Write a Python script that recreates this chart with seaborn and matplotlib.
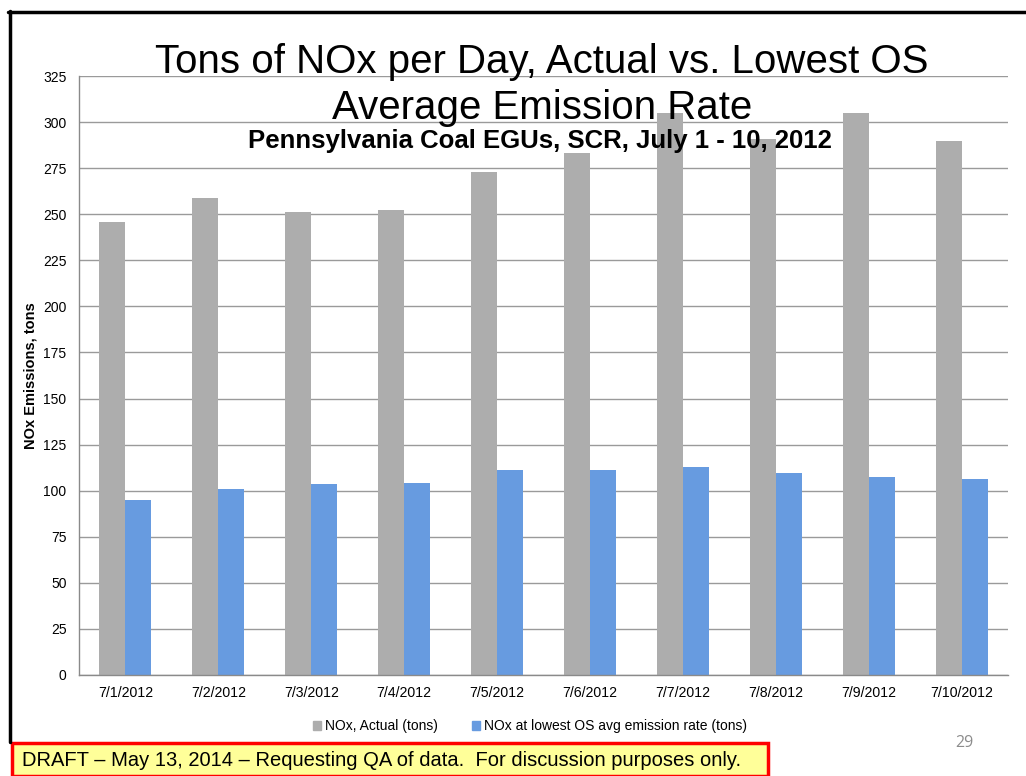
import pandas as pd
import matplotlib.pyplot as plt
import matplotlib.patches as mpatches
import matplotlib.lines as mlines
import seaborn as sns

dates = ['7/1/2012', '7/2/2012', '7/3/2012', '7/4/2012', '7/5/2012',
         '7/6/2012', '7/7/2012', '7/8/2012', '7/9/2012', '7/10/2012']
actual = [246, 259, 251, 252.5, 273, 283, 305, 291, 305, 290]
lowest = [95, 101, 103.5, 104, 111, 111, 113, 109.5, 107.5, 106.5]
series_names = ['NOx, Actual (tons)', 'NOx at lowest OS avg emission rate (tons)']
y_ticks = list(range(0, 326, 25))

df = pd.DataFrame({
    'date': dates * 2,
    'tons': actual + lowest,
    'series': [series_names[0]] * len(dates) + [series_names[1]] * len(dates),
})

sns.set_style('white')
plt.rcParams['font.family'] = ['Liberation Sans', 'DejaVu Sans']
plt.rcParams['text.color'] = 'black'
plt.rcParams['axes.labelcolor'] = 'black'

W, H = 1026, 776
fig = plt.figure(figsize=(W / 100, H / 100), dpi=100)
ax = fig.add_axes([79 / W, 1 - 675 / H, (1008 - 79) / W, (675 - 76) / H])

sns.barplot(data=df, x='date', y='tons', hue='series', order=dates,
            palette=['#ADADAD', '#679BE0'], width=0.56, gap=0,
            saturation=1, linewidth=0, ax=ax, legend=False)

ax.set_ylim(0, 325)
ax.set_xlim(-0.5, len(dates) - 0.5)
ax.set_yticks(y_ticks)
ax.yaxis.grid(True, color='#9a9a9a', linewidth=1)
ax.set_axisbelow(True)
ax.set_xlabel('')
ax.set_ylabel('NOx Emissions, tons', fontsize=10.5, fontweight='bold', labelpad=4)
for s in ['top', 'right']:
    ax.spines[s].set_visible(False)
for s in ['left', 'bottom']:
    ax.spines[s].set_color('#8a8a8a')
    ax.spines[s].set_linewidth(1)
ax.tick_params(axis='y', length=6, color='#8a8a8a', labelcolor='black',
               labelsize=10, pad=3)
ax.tick_params(axis='x', which='major', length=0, labelcolor='black',
               labelsize=10.2, pad=8)
ax.set_xticks([i - 0.5 for i in range(len(dates) + 1)], minor=True)
ax.tick_params(axis='x', which='minor', length=5, color='#8a8a8a', direction='out')

# titles
fig.text(542 / W, 1 - 73 / H, 'Tons of NOx per Day, Actual vs. Lowest OS',
         ha='center', va='baseline', fontsize=29)
fig.text(542 / W, 1 - 119 / H, 'Average Emission Rate',
         ha='center', va='baseline', fontsize=29)
fig.text(540 / W, 1 - 148 / H, 'Pennsylvania Coal EGUs, SCR, July 1 - 10, 2012',
         ha='center', va='baseline', fontsize=18.5, fontweight='bold')

# legend
handles = [mpatches.Patch(color='#ADADAD', label=series_names[0]),
           mpatches.Patch(color='#679BE0', label=series_names[1])]
fig.legend(handles=handles, loc='center', bbox_to_anchor=(530 / W, 1 - 726 / H),
           ncol=2, frameon=False, fontsize=10, handlelength=0.6,
           handleheight=0.6, handletextpad=0.3, columnspacing=2.4)

# slide frame
fig.add_artist(mlines.Line2D([9.5 / W, 9.5 / W], [1 - 11 / H, 1 - 742 / H],
                             color='black', linewidth=2.5))
fig.add_artist(mlines.Line2D([8 / W, 1], [1 - 11.5 / H, 1 - 11.5 / H],
                             color='black', linewidth=2.5))

# draft banner
fig.add_artist(mpatches.Rectangle((12 / W, 0), (768 - 12) / W, (776 - 743) / H,
                                  facecolor='#FFFF99', edgecolor='#FF0000',
                                  linewidth=2.5, transform=fig.transFigure))
fig.text(22 / W, 1 - 761 / H,
         'DRAFT \u2013 May 13, 2014 \u2013 Requesting QA of data.  For discussion purposes only.',
         ha='left', va='center', fontsize=14.5)

fig.text(964 / W, 1 - 743 / H, '29', ha='center', va='center',
         fontsize=11.5, color='#8c8c8c', family=['Open Sans', 'DejaVu Sans'])

fig.savefig('out.png', dpi=100)
